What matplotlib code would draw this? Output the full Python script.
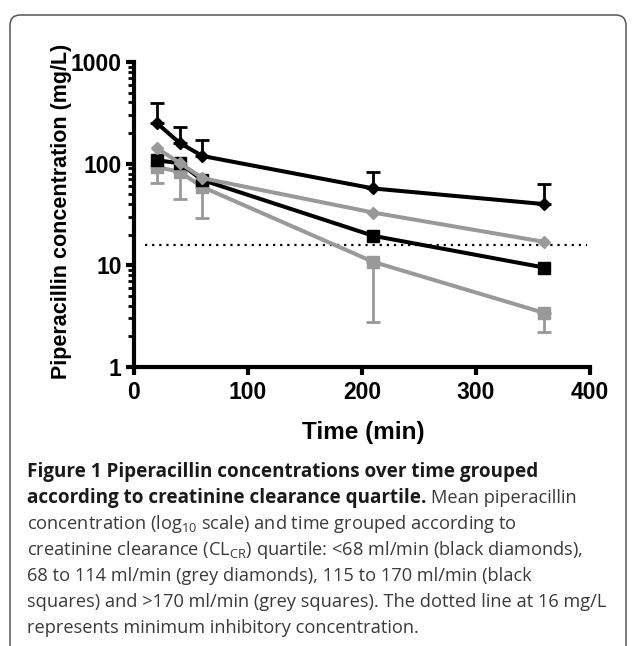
import matplotlib
matplotlib.use("Agg")
import matplotlib.pyplot as plt
import numpy as np
from matplotlib.patches import FancyBboxPatch
from matplotlib.ticker import LogLocator, FixedLocator, NullFormatter

# ---------------- data ----------------
time_min = [20, 40, 60, 210, 360]
black_diamonds = [251, 160, 119, 57, 40]          # <68 ml/min
black_diamonds_err_up = [144, 70, 51, 26, 23]
grey_diamonds = [142, 102, 72, 33, 17]            # 68 to 114 ml/min
black_squares = [108, 101, 69, 19.5, 9.5]         # 115 to 170 ml/min
grey_squares = [93, 83, 59, 10.8, 3.4]            # >170 ml/min
grey_squares_err_down = [28, 38, 30, 8.0, 1.2]
mic_level = 16
mic_span = [10, 397]

x_ticks = [0, 100, 200, 300, 400]
y_ticks = [1, 10, 100, 1000]
y_tick_labels = ["1", "10", "100", "1000"]

W, H = 636, 646
CAP_FONT = "Open Sans"
plt.rcParams["mathtext.fontset"] = "custom"
plt.rcParams["mathtext.rm"] = CAP_FONT
plt.rcParams["mathtext.it"] = CAP_FONT + ":italic"
plt.rcParams["mathtext.bf"] = CAP_FONT + ":bold"

fig = plt.figure(figsize=(W / 100, H / 100), dpi=100)
fig.patch.set_facecolor("white")

# rounded border box
box = FancyBboxPatch((10 / W, -0.05), 616 / W, 1 - 15 / H + 0.05,
                     boxstyle="round,pad=0,rounding_size=0.016",
                     transform=fig.transFigure, fill=False,
                     edgecolor="#555555", linewidth=1.1)
fig.patches.append(box)

ax = fig.add_axes([134 / W, 1 - 367 / H, 456 / W, 305 / H])
BLACK = "#000000"
GREY = "#999999"
lw = 2.9

ax.plot(time_min, grey_squares, color=GREY, lw=lw, marker="s", ms=8, zorder=3)
ax.errorbar(time_min, grey_squares, yerr=[grey_squares_err_down, [0] * 5],
            fmt="none", ecolor=GREY, elinewidth=2.0, capsize=5, capthick=2.0, zorder=2)
ax.plot(time_min, black_squares, color=BLACK, lw=lw, marker="s", ms=8, zorder=4)
ax.plot(time_min, grey_diamonds, color=GREY, lw=lw, marker="D", ms=6.5, zorder=5)
ax.errorbar(time_min, black_diamonds, yerr=[[0] * 5, black_diamonds_err_up],
            fmt="none", ecolor=BLACK, elinewidth=2.0, capsize=5, capthick=2.0, zorder=5)
ax.plot(time_min, black_diamonds, color=BLACK, lw=lw, marker="D", ms=6.5, zorder=6)

ax.plot(mic_span, [mic_level, mic_level], color=BLACK, lw=1.6,
        linestyle=(0, (1, 2.2)), zorder=1)

ax.set_yscale("log")
ax.set_xlim(0, 400)
ax.set_ylim(1, 1000)
for s in ["top", "right"]:
    ax.spines[s].set_visible(False)
for s in ["left", "bottom"]:
    ax.spines[s].set_linewidth(3)
    ax.spines[s].set_capstyle("projecting")

ax.xaxis.set_major_locator(FixedLocator(x_ticks))
ax.set_xticklabels([str(t) for t in x_ticks])
ax.yaxis.set_major_locator(FixedLocator(y_ticks))
ax.set_yticklabels(y_tick_labels)
ax.yaxis.set_minor_locator(LogLocator(base=10, subs=np.arange(2, 10)))
ax.yaxis.set_minor_formatter(NullFormatter())
ax.tick_params(axis="both", which="major", direction="out", length=6, width=3, pad=3)
ax.tick_params(axis="x", which="major", pad=4)
ax.tick_params(axis="y", which="minor", direction="out", length=4.5, width=2)
for lab in ax.get_xticklabels() + ax.get_yticklabels():
    lab.set_fontfamily("Liberation Sans")
    lab.set_fontweight("bold")
    lab.set_fontsize(16.5)

fig.text(363 / W, 1 - 432 / H, "Time (min)", ha="center", va="center",
         fontsize=17.5, fontweight="bold", family="Liberation Sans")
fig.text(61 / W, 1 - 211 / H, "Piperacillin concentration (mg/L)", ha="center",
         va="center", rotation=90, fontsize=15.5, fontweight="bold",
         family="Liberation Sans")

# ---------------- caption ----------------
cap_lines = [
    [("Figure 1 Piperacillin concentrations over time grouped", "bold")],
    [("according to creatinine clearance quartile.", "bold"), (" Mean piperacillin", "normal")],
    [(r"concentration (log$_{10}$ scale) and time grouped according to", "normal")],
    [(r"creatinine clearance (CL$_{\mathrm{CR}}$) quartile: <68 ml/min (black diamonds),", "normal")],
    [("68 to 114 ml/min (grey diamonds), 115 to 170 ml/min (black", "normal")],
    [("squares) and >170 ml/min (grey squares). The dotted line at 16 mg/L", "normal")],
    [("represents minimum inhibitory concentration.", "normal")],
]
# right ends of caption lines in the reference (pixels)
line_ends = [555, 556, 549, 607, 552, 604, 452]
x0, y0, dy = 27, 477, 26

renderer = fig.canvas.get_renderer()

def text_w(s, fs, weight="normal"):
    t = fig.text(0, 0, s, fontsize=fs, fontweight=weight, family=CAP_FONT)
    w = t.get_window_extent(renderer).width
    t.remove()
    return w

# least-squares fit of the regular size, but never let a line run past its end by much
a = np.array([text_w(cap_lines[i][0][0], 10) / 10 for i in range(2, 7)])
tgt = np.array([line_ends[i] - x0 for i in range(2, 7)])
reg_fs = float(a @ tgt / (a @ a))
reg_fs = min(reg_fs, float(np.min((tgt + 5) / a)))
# joint fit of the bold size on lines 1 and 2
b1 = text_w(cap_lines[0][0][0], 10, "bold") / 10
b2 = text_w(cap_lines[1][0][0], 10, "bold") / 10
c2 = (text_w("a a", reg_fs) - text_w("aa", reg_fs)) + text_w(cap_lines[1][1][0][1:], reg_fs)
t1, t2 = line_ends[0] - x0, line_ends[1] - x0 - c2
bold_fs = float((b1 * t1 + b2 * t2) / (b1 * b1 + b2 * b2))

for i, segs in enumerate(cap_lines):
    x = x0
    for text, weight in segs:
        fs = bold_fs if weight == "bold" else reg_fs
        col = "#1a1a1a" if weight == "bold" else "#3a3a3a"
        if text.startswith(" "):
            x += text_w("a a", fs) - text_w("aa", fs)
            text = text[1:]
        t = fig.text(x / W, 1 - (y0 + i * dy) / H, text, fontsize=fs,
                     fontweight=weight, family=CAP_FONT, color=col, va="baseline")
        x += t.get_window_extent(renderer).width

fig.savefig("out.png", dpi=100)
